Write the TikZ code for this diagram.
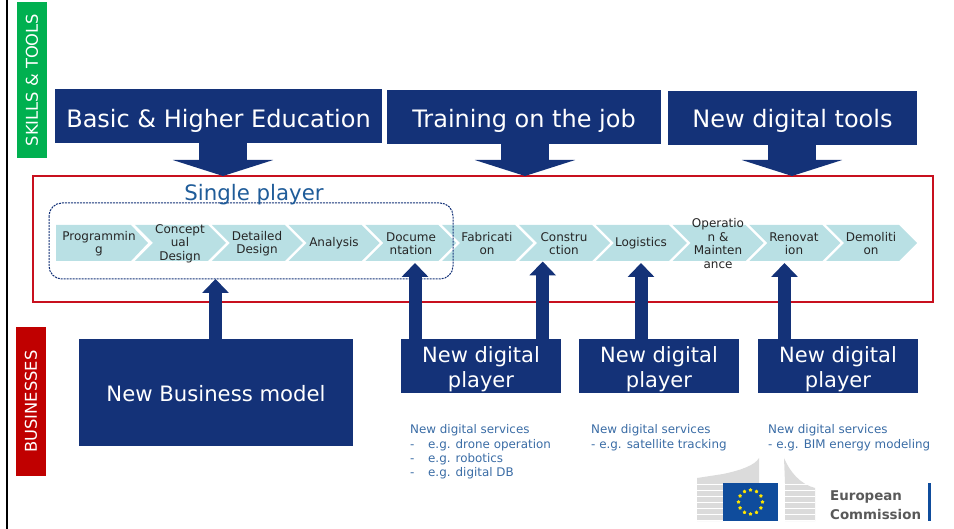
\documentclass[tikz,border=0pt]{standalone}
\usepackage{fontspec}
\setmainfont{DejaVu Sans}
\usetikzlibrary{arrows.meta,shapes.geometric}
\definecolor{navy}{HTML}{143278}
\definecolor{chevron}{HTML}{B9E0E4}
\definecolor{svcblue}{HTML}{3A6CA5}
\definecolor{singleblue}{HTML}{1F5C99}
\definecolor{redline}{HTML}{C8101E}
\definecolor{skillgreen}{HTML}{00B050}
\definecolor{bizred}{HTML}{C00000}
\definecolor{euflag}{HTML}{0F4C9C}
\definecolor{euyellow}{HTML}{FFE500}
\tikzset{
  navybox/.style={fill=navy,text=white,inner sep=0pt,align=center,text depth=0pt,font=\fontsize{24}{26}\selectfont},
  playerbox/.style={navybox,font=\fontsize{21}{25}\selectfont,minimum width=160pt,minimum height=54pt,text height=42.6pt},
  sidebox/.style={text=white,rotate=90,inner sep=0pt,minimum height=30pt,font=\fontsize{16.3}{18}\selectfont},
  steptext/.style={text=black!85,align=center,inner sep=0pt,font=\fontsize{12}{13.4}\selectfont},
  svctext/.style={text=svcblue,anchor=north west,align=left,inner sep=0pt,font=\fontsize{11.9}{14.4}\selectfont},
  logotext/.style={inner sep=0pt,anchor=west,text=black!65,font=\bfseries\fontsize{13.4}{15}\selectfont},
  downarrow/.style={draw=navy,line width=48pt,-{Triangle[length=16pt,width=100pt]}},
  uparrow/.style={draw=navy,line width=13pt,-{Triangle[length=14pt,width=26pt]}},
}
\begin{document}
\begin{tikzpicture}[x=1pt,y=-1pt]
\useasboundingbox (0,0) rectangle (954,529);
\fill[black] (6,0) rectangle (8,529);

\node[sidebox,fill=skillgreen,minimum width=156pt] (skills) at (32,80) {SKILLS \& TOOLS};
\node[sidebox,fill=bizred,minimum width=149pt] (business) at (31,401.5) {BUSINESSES};

\node[navybox,minimum width=327pt,minimum height=54pt,text height=23pt] (education) at (218.5,116) {Basic \& Higher Education};
\node[navybox,minimum width=274pt,minimum height=54pt,text height=22pt] (training) at (524,117) {Training on the job};
\node[navybox,minimum width=249pt,minimum height=54pt,text height=19pt] (tools) at (792.5,118) {New digital tools};

\draw[redline,line width=1.1pt] (33,176) rectangle (933,302);
\coordinate (edutip) at (223,176);
\coordinate (traintip) at (525,176);
\coordinate (toolstip) at (792,176);
\draw[downarrow] (education.south -| edutip) -- (edutip);
\draw[downarrow] (training.south -| traintip) -- (traintip);
\draw[downarrow] (tools.south -| toolstip) -- (toolstip);

% value chain
\fill[chevron] (56,225) -- (131,225) -- (148,243) -- (131,261) -- (56,261) -- cycle;
\foreach \i in {1,...,10}
  \fill[chevron] ({58.2+76.8*\i},225) -- ({131.2+76.8*\i},225) -- ({149.2+76.8*\i},243)
    -- ({131.2+76.8*\i},261) -- ({58.2+76.8*\i},261) -- ({76.2+76.8*\i},243) -- cycle;
\node[steptext] (programming) at (99,243.5) {Programmin\\g};
\node[steptext] (conceptual) at (180,243.5) {Concept\\ual\\Design};
\node[steptext] (detailed) at (257,243.5) {Detailed\\Design};
\node[steptext] (analysis) at (334,243.5) {Analysis};
\node[steptext] (documentation) at (411,243.5) {Docume\\ntation};
\node[steptext] (fabrication) at (487,243.5) {Fabricati\\on};
\node[steptext] (construction) at (564,243.5) {Constru\\ction};
\node[steptext] (logistics) at (641,243.5) {Logistics};
\node[steptext] (operation) at (718,243.5) {Operatio\\n \&\\Mainten\\ance};
\node[steptext] (renovation) at (794,243.5) {Renovat\\ion};
\node[steptext] (demolition) at (871,243.5) {Demoliti\\on};

\draw[navy,dash pattern=on 2pt off 1pt,line width=1pt,rounded corners=13pt] (49,203) rectangle (453,279);
\node[text=singleblue,inner sep=0pt,font=\fontsize{21.3}{23}\selectfont] (single) at (254,195) {Single player};

\node[navybox,font=\fontsize{21.2}{23}\selectfont,minimum width=274pt,minimum height=107pt,text height=19pt] (model) at (216,392.5) {New Business model};
\node[playerbox] (playerA) at (481,366) {New digital\\player};
\node[playerbox] (playerB) at (659,366) {New digital\\player};
\node[playerbox] (playerC) at (838,366) {New digital\\player};

\coordinate (modeltip) at (215.5,279);
\coordinate (docutip) at (415,263);
\coordinate (constructip) at (542.7,261.5);
\coordinate (logtip) at (641,263);
\coordinate (renotip) at (784.5,263);
\draw[uparrow] (model.north -| modeltip) -- (modeltip);
\draw[uparrow] (playerA.north -| docutip) -- (docutip);
\draw[uparrow] (playerA.north -| constructip) -- (constructip);
\draw[uparrow] (playerB.north -| logtip) -- (logtip);
\draw[uparrow] (playerC.north -| renotip) -- (renotip);

\node[svctext] (servicesA) at (410,424.5) {New digital services\\-\hspace{1.15em}e.g. drone operation\\-\hspace{1.15em}e.g. robotics\\-\hspace{1.15em}e.g. digital DB};
\node[svctext] (servicesB) at (591,424.5) {New digital services\\- e.g. satellite tracking};
\node[svctext] (servicesC) at (768,424.5) {New digital services\\- e.g. BIM energy modeling};

% logo
\fill[black!14] (697,478) -- (723,474) .. controls (742,470) and (755,465) .. (759,458) -- (759,483) -- (723,483) -- (723,521) -- (697,521) -- cycle;
\fill[black!14] (784,458) .. controls (790,472) and (800,484) .. (815,488) -- (815,521) -- (785,521) -- (785,483) -- cycle;
\foreach \y in {484,490,...,520} {
  \draw[white,line width=0.6pt] (697,\y) -- (723,\y);
  \draw[white,line width=0.6pt] (785,\y) -- (815,\y);
}
\fill[euflag] (723,483) rectangle (778,521);
\foreach \a in {0,30,...,330}
  \node[star,star points=5,fill=euyellow,inner sep=0pt,minimum size=4pt] (star\a) at ({750.5+12*cos(\a)},{502+12*sin(\a)}) {};
\node[logotext] (european) at (830,497) {European};
\node[logotext] (commission) at (830,515) {Commission};
\fill[euflag] (928,483) rectangle (931,521);
\end{tikzpicture}
\end{document}
